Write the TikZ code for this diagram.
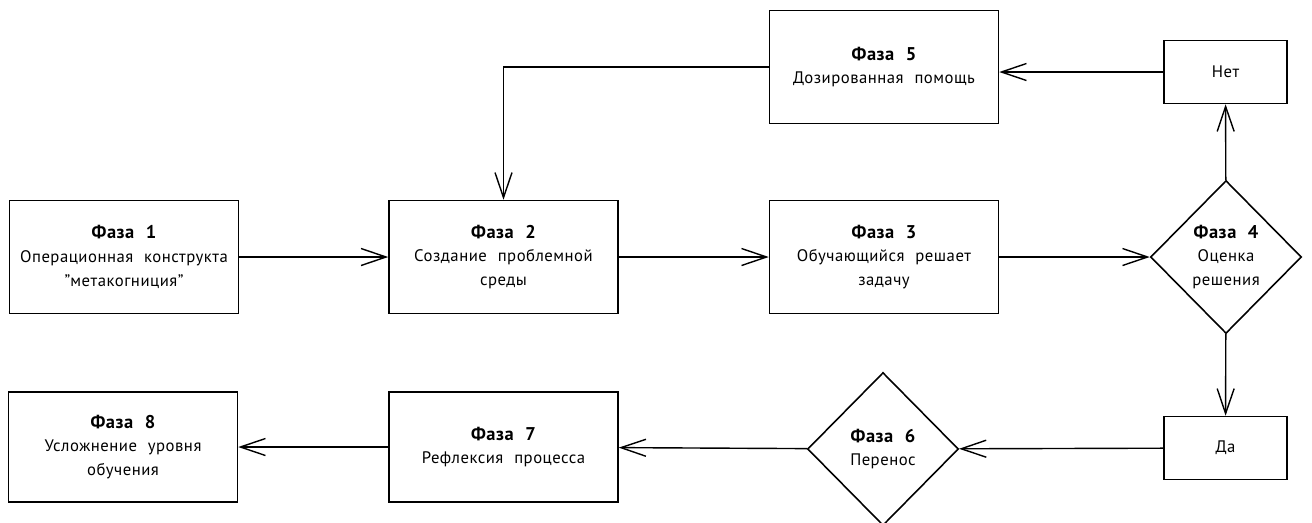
\documentclass[tikz,border=0pt]{standalone}
\usepackage{fontspec}
\setmainfont{PT Sans}[WordSpace=2.2,LetterSpace=3]
\usetikzlibrary{shapes.geometric,arrows.meta}
\newcommand{\phasetitle}[1]{{\fontsize{10.5}{13.5}\selectfont\bfseries Фаза #1}}
\newcommand{\qmark}{\char34\relax}

\begin{document}
\begin{tikzpicture}[x=0.02cm, y=-0.02cm,
    every node/.style={font=\fontsize{9.5}{13.5}\selectfont, align=center},
    phase/.style={draw, line width=0.9pt, minimum width=4.58cm, minimum height=2.26cm, inner sep=0pt},
    decision/.style={draw, diamond, line width=0.9pt, minimum width=3.02cm, minimum height=3.06cm, inner sep=0pt},
    answer/.style={draw, line width=0.9pt, minimum width=2.46cm, minimum height=1.26cm, inner sep=0pt},
    link/.style={-{Straight Barb[length=5mm,width=3.4mm]}, line width=0.8pt}]
        \useasboundingbox (0,0) rectangle (1312,522);

        % Phase boxes, top rows
        \node[phase] (f1) at (124,257) {\phasetitle{1}\\Операционная конструкта\\\qmark метакогниция\qmark};
        \node[phase] (f2) at (503.5,257) {\phasetitle{2}\\Создание проблемной\\среды};
        \node[phase] (f3) at (884,257) {\phasetitle{3}\\Обучающийся решает\\задачу};
        \node[decision] (f4) at (1226,257) {\phasetitle{4}\\Оценка\\решения};
        \node[phase] (f5) at (884,67) {\phasetitle{5}\\Дозированная помощь};
        \node[answer] (no) at (1225.5,72) {Нет};

        % Bottom row
        \node[answer] (yes) at (1225.5,448) {Да};
        \node[decision] (f6) at (883,449) {\phasetitle{6}\\Перенос};
        \node[phase, minimum height=2.2cm] (f7) at (503.5,447) {\phasetitle{7}\\Рефлексия процесса};
        \node[phase, minimum height=2.2cm] (f8) at (123,447) {\phasetitle{8}\\Усложнение уровня\\обучения};

        \draw[link] (f1) -- (f2);
        \draw[link] (f2) -- (f3);
        \draw[link] (f3) -- (f4);
        \draw[link] (f4) -- (no);
        \draw[link] (f4) -- (yes);
        \draw[link] (no) -- (f5.east |- no);
        \draw[link] (f5.west) -| (f2.north);
        \draw[link] (yes) -- (f6);
        \draw[link] (f6) -- (f7);
        \draw[link] (f7) -- (f8);
    \end{tikzpicture}
\end{document}
